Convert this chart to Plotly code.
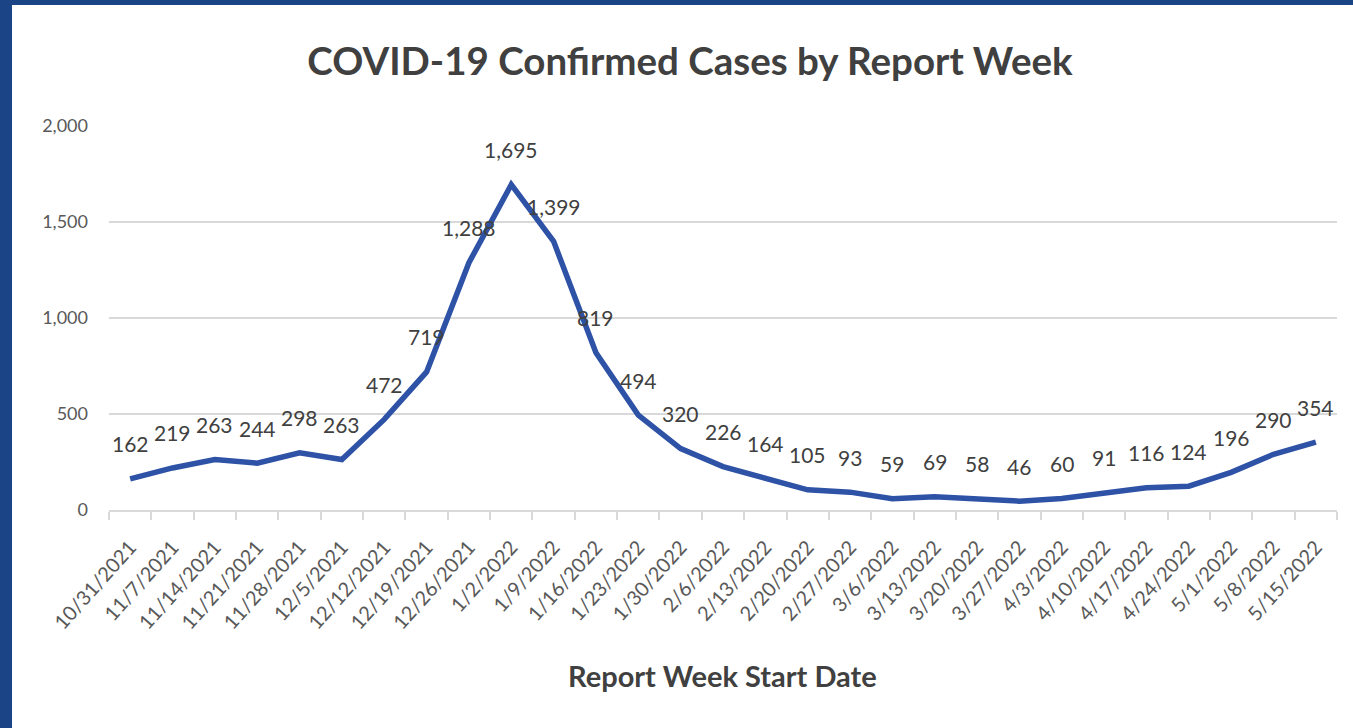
import plotly.graph_objects as go

weeks = ["10/31/2021", "11/7/2021", "11/14/2021", "11/21/2021", "11/28/2021", "12/5/2021",
         "12/12/2021", "12/19/2021", "12/26/2021", "1/2/2022", "1/9/2022", "1/16/2022",
         "1/23/2022", "1/30/2022", "2/6/2022", "2/13/2022", "2/20/2022", "2/27/2022",
         "3/6/2022", "3/13/2022", "3/20/2022", "3/27/2022", "4/3/2022", "4/10/2022",
         "4/17/2022", "4/24/2022", "5/1/2022", "5/8/2022", "5/15/2022"]
cases = [162, 219, 263, 244, 298, 263, 472, 719, 1288, 1695, 1399, 819, 494, 320, 226, 164,
         105, 93, 59, 69, 58, 46, 60, 91, 116, 124, 196, 290, 354]
ytick_vals = [0, 500, 1000, 1500, 2000]
ytick_text = ["0", "500", "1,000", "1,500", "2,000"]

W, H = 1353, 728
L, R, T, B = 109, 16, 126, 218
pw = W - L - R
ph = H - T - B
FONT = "Lato, Carlito, sans-serif"

fig = go.Figure()
fig.add_trace(go.Scatter(
    x=weeks, y=cases, mode="lines",
    line=dict(color="#2E52A6", width=5.5),
    hoverinfo="x+y", showlegend=False,
))

for w, c in zip(weeks, cases):
    fig.add_annotation(x=w, y=c, text=f"{c:,}", showarrow=False, yshift=35,
                       font=dict(family=FONT, size=21, color="#404040"))

def px_x(p):
    return (p - L) / pw

def px_y(p):
    return 1 - (p - T) / ph

fig.add_shape(type="rect", xref="paper", yref="paper",
              x0=px_x(0), x1=px_x(12), y0=px_y(H), y1=px_y(0),
              fillcolor="#1B4487", line_width=0, layer="above")
fig.add_shape(type="rect", xref="paper", yref="paper",
              x0=px_x(0), x1=px_x(W), y0=px_y(5), y1=px_y(0),
              fillcolor="#1B4487", line_width=0, layer="above")

fig.add_annotation(xref="paper", yref="paper", x=px_x(722), y=px_y(675),
                   xanchor="center", yanchor="middle", showarrow=False,
                   text="<b>Report Week Start Date</b>",
                   font=dict(family=FONT, size=29, color="#404040"))

fig.update_layout(
    width=W, height=H,
    margin=dict(l=L, r=R, t=T, b=B, autoexpand=False),
    paper_bgcolor="white", plot_bgcolor="white",
    font=dict(family=FONT, color="#595959"),
    title=dict(text="<b>COVID-19 Confirmed Cases by Report Week</b>",
               x=690 / W, xanchor="center", y=1 - 62 / H, yanchor="middle",
               font=dict(size=38.5, color="#404040")),
    xaxis=dict(
        type="category", range=[-0.5, len(weeks) - 0.5],
        tickangle=-48, tickfont=dict(size=20, color="#595959"),
        ticks="outside", ticklen=8, tickcolor="#D9D9D9", tickwidth=1.5,
        tickson="boundaries", ticklabelstandoff=16,
        showline=True, linecolor="#D9D9D9", linewidth=1.5,
        showgrid=False, zeroline=False,
    ),
    yaxis=dict(
        range=[0, 2000], tickvals=ytick_vals, ticktext=ytick_text,
        tickfont=dict(size=18, color="#595959"),
        showgrid=True, gridcolor="#D9D9D9", gridwidth=1.5,
        zeroline=False, showline=False, ticks="",
        ticklabelstandoff=20,
    ),
)

fig.write_html("out.html", config={"displayModeBar": False},
               post_script="document.body.style.margin='0';document.body.style.overflow='hidden';")
